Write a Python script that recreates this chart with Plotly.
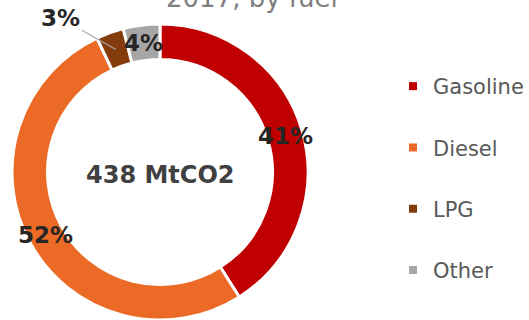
import math
import plotly.graph_objects as go

# ---- data ----
fuels = ["Gasoline", "Diesel", "LPG", "Other"]
shares = [41, 52, 3, 4]
colors = ["#C00000", "#EB6A26", "#843C0C", "#A6A6A6"]
total_label = "438 MtCO2"
title_text = "2017, by fuel"
outside_labels = ["LPG"]

# ---- layout constants ----
W, H = 529, 320
cx, cy, R_out = 160, 172, 148
hole = 0.76
FONT = "DejaVu Sans"

fig = go.Figure()
fig.add_trace(go.Pie(
    labels=fuels, values=shares,
    marker=dict(colors=colors, line=dict(color="white", width=3)),
    hole=hole, sort=False, direction="clockwise", rotation=0,
    textinfo="none", showlegend=False, hoverinfo="label+percent",
    domain=dict(x=[(cx - R_out) / W, (cx + R_out) / W],
                y=[1 - (cy + R_out) / H, 1 - (cy - R_out) / H]),
))

# legend entries (one group per fuel so spacing can be set)
for name, col in zip(fuels, colors):
    fig.add_trace(go.Scatter(
        x=[None], y=[None], mode="markers", name=name, legendgroup=name,
        marker=dict(symbol="square", size=8, color=col), hoverinfo="skip",
    ))

def px2paper(x, y):
    return x / W, 1 - y / H

annotations = []
R_mid = R_out * (1 + hole) / 2
total = sum(shares)
cum = 0
for name, v in zip(fuels, shares):
    ang = math.radians((cum + v / 2) / total * 360)
    cum += v
    px = cx + R_mid * math.sin(ang)
    py = cy - R_mid * math.cos(ang)
    xp, yp = px2paper(px, py)
    a = dict(x=xp, y=yp, xref="paper", yref="paper", text=f"{v}%",
             xanchor="center", yanchor="middle",
             font=dict(family=FONT, size=23, color="#262626", weight="bold"),
             showarrow=False)
    if name in outside_labels:
        a.update(showarrow=True, arrowhead=0, arrowwidth=1.2, arrowcolor="#A6A6A6",
                 ax=-55, ay=-31, standoff=0)
    annotations.append(a)

xp, yp = px2paper(cx, cy + 3)
annotations.append(dict(x=xp, y=yp, xref="paper", yref="paper", text=total_label,
                        xanchor="center", yanchor="middle", showarrow=False,
                        font=dict(family=FONT, size=24, color="#404040", weight="bold")))
annotations.append(dict(x=252 / W, y=1, xref="paper", yref="paper",
                        xanchor="center", yanchor="bottom",
                        yshift=-15, text=title_text, showarrow=False,
                        font=dict(family=FONT, size=26, color="#7F7F7F")))

fig.update_layout(
    width=W, height=H, margin=dict(l=0, r=0, t=0, b=0),
    paper_bgcolor="white", plot_bgcolor="white",
    xaxis=dict(visible=False), yaxis=dict(visible=False),
    showlegend=True,
    legend=dict(x=(433 - 40) / W, y=1 - 66 / H, xanchor="left", yanchor="top",
                traceorder="grouped", tracegroupgap=31,
                font=dict(family=FONT, size=21, color="#595959"),
                bgcolor="rgba(0,0,0,0)"),
    annotations=annotations,
)

fig.write_html("out.html", config={"displayModeBar": False},
               post_script="document.body.style.margin='0px';")
